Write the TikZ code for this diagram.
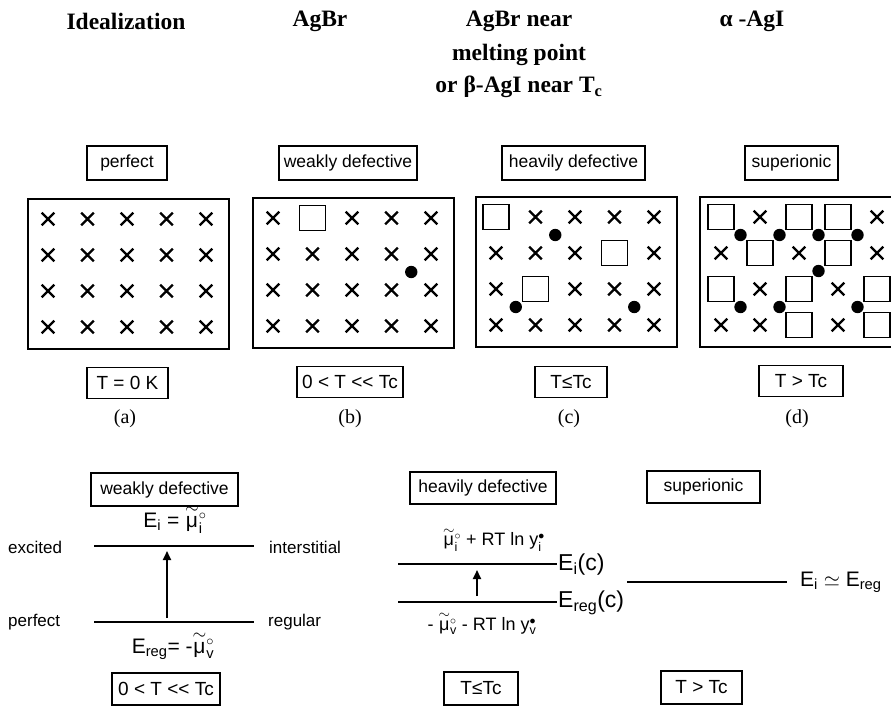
\documentclass[tikz,border=0pt]{standalone}
\usepackage{fontspec}
\usepackage{amsmath}
\setmainfont{Liberation Sans}
\newfontfamily\headfont{Liberation Serif}
\usetikzlibrary{arrows.meta}
\newcommand\tmu{\mathord{\smash{\overset{\raisebox{-0.3em}{\scalebox{0.85}{$\sim$}}}{\text{μ}}}}\vphantom{\text{μ}}}
\begin{document}
\begin{tikzpicture}[x=1pt,y=-1pt,
  head/.style={font=\headfont\bfseries\fontsize{23.5}{27}\selectfont, inner sep=0pt},
  tagbox/.style={draw, line width=1.6pt, inner sep=0pt, minimum height=34pt, font=\fontsize{17.5}{20}\selectfont},
  condbox/.style={draw, line width=1.6pt, inner sep=0pt, minimum height=31pt, font=\fontsize{19}{22}\selectfont},
  panel/.style={draw, line width=1.8pt, minimum width=201pt, minimum height=150pt, inner sep=0pt, anchor=north west},
  sublbl/.style={font=\headfont\fontsize{20}{22}\selectfont, inner sep=0pt},
  lvltxt/.style={font=\fontsize{17}{20}\selectfont, inner sep=0pt},
  eqtxt/.style={font=\fontsize{21}{24}\selectfont, inner sep=0pt},
  smalleq/.style={font=\fontsize{18}{20}\selectfont, inner sep=0pt},
  bigeq/.style={font=\fontsize{23}{26}\selectfont, inner sep=0pt, anchor=west},
  level/.style={line width=1.6pt},
  uparrow/.style={line width=2pt, -{Triangle[length=9pt,width=8pt]}},
  xm/.pic={\draw[line width=2.4pt] (-6.3,-6.3)--(6.3,6.3) (-6.3,6.3)--(6.3,-6.3);},
  vac/.pic={\draw[line width=1.8pt] (-13,-12.5) rectangle (13,12.5);},
  ion/.pic={\fill (0,0) circle (6.2);}
]
\useasboundingbox (0,0) rectangle (891,706);
\clip (0,0) rectangle (891,706);

% headers
\node[head] (h1) at (126,21) {Idealization};
\node[head] (h2) at (320,21) {AgBr};
\node[head] (h3a) at (519,21) {AgBr near};
\node[head] (h3b) at (519,55) {melting point};
\node[head] (h3c) at (519,87) {or β-AgI near T\textsubscript{c}};
\node[head] (h4) at (752,21) {α -AgI};

% state tags
\node[tagbox, minimum width=80pt] (ta) at (127,163) {perfect};
\node[tagbox, minimum width=138pt] (tb) at (348,163) {weakly defective};
\node[tagbox, minimum width=143pt] (tc) at (573.5,163) {heavily defective};
\node[tagbox, minimum width=93pt] (td) at (791.5,163) {superionic};

% panels
\node[panel] (pa) at (27,198) {};
\node[panel] (pb) at (252,197) {};
\node[panel] (pc) at (475,196) {};
\node[panel] (pd) at (699,196) {};

% (a) perfect lattice
\begin{scope}[shift={(27,198)}]
  \foreach \i in {1,...,4} \foreach \j in {1,...,5}
    \pic at ({21+39.5*(\j-1)},{21+36*(\i-1)}) {xm};
\end{scope}

% (b) weakly defective
\begin{scope}[shift={(252,197)}]
  \foreach \i/\j in {1/1,1/3,1/4,1/5,2/1,2/2,2/3,2/4,2/5,3/1,3/2,3/3,3/4,3/5,4/1,4/2,4/3,4/4,4/5}
    \pic at ({21+39.5*(\j-1)},{21+36*(\i-1)}) {xm};
  \foreach \i/\j in {1/2}
    \pic at ({21+39.5*(\j-1)},{21+36*(\i-1)}) {vac};
  \foreach \i/\j in {2.5/4.5}
    \pic at ({21+39.5*(\j-1)},{21+36*(\i-1)}) {ion};
\end{scope}

% (c) heavily defective
\begin{scope}[shift={(475,196)}]
  \foreach \i/\j in {1/2,1/3,1/4,1/5,2/1,2/2,2/3,2/5,3/1,3/3,3/4,3/5,4/1,4/2,4/3,4/4,4/5}
    \pic at ({21+39.5*(\j-1)},{21+36*(\i-1)}) {xm};
  \foreach \i/\j in {1/1,2/4,3/2}
    \pic at ({21+39.5*(\j-1)},{21+36*(\i-1)}) {vac};
  \foreach \i/\j in {1.5/2.5,3.5/1.5,3.5/4.5}
    \pic at ({21+39.5*(\j-1)},{21+36*(\i-1)}) {ion};
\end{scope}

% (d) superionic
\begin{scope}[shift={(699,196)}]
  \foreach \i/\j in {1/2,1/5,2/1,2/3,2/5,3/2,3/4,4/1,4/2,4/4}
    \pic at ({22+39*(\j-1)},{21+36*(\i-1)}) {xm};
  \foreach \i/\j in {1/1,1/3,1/4,2/2,2/4,3/1,3/3,3/5,4/3,4/5}
    \pic at ({22+39*(\j-1)},{21+36*(\i-1)}) {vac};
  \foreach \i/\j in {1.5/1.5,1.5/2.5,1.5/3.5,1.5/4.5,2.5/3.5,3.5/1.5,3.5/2.5,3.5/4.5}
    \pic at ({22+39*(\j-1)},{21+36*(\i-1)}) {ion};
\end{scope}

% temperature conditions
\node[condbox, minimum width=81pt] (ca) at (127.5,383) {T = 0 K};
\node[condbox, minimum width=106pt] (cb) at (350,382) {0 < T <{}< Tc};
\node[condbox, minimum width=72pt] (cc) at (571,382) {T≤Tc};
\node[condbox, minimum width=84pt] (cd) at (801,381) {T > Tc};

\node[sublbl] (la) at (125,419) {(a)};
\node[sublbl] (lb) at (350,419) {(b)};
\node[sublbl] (lc) at (569,419) {(c)};
\node[sublbl] (ld) at (797,419) {(d)};

% ---- bottom: energy levels, weakly defective
\node[tagbox, minimum width=147pt, minimum height=33pt] (bw) at (164.5,489.5) {weakly defective};
\node[eqtxt] (eqi) at (175,523) {E\textsubscript{i} = $\tmu^{\circ}_{\text{i}}$};
\node[lvltxt, anchor=west] (exc) at (8,547) {excited};
\node[lvltxt, anchor=west] (itl) at (269,547) {interstitial};
\node[lvltxt, anchor=west] (prf) at (8,622) {perfect};
\node[lvltxt, anchor=west] (reg) at (268,622) {regular};
\coordinate (w1l) at (94,546); \coordinate (w1r) at (254,546);
\coordinate (w2l) at (94,622); \coordinate (w2r) at (254,622);
\draw[level] (w1l) -- (w1r);
\draw[level] (w2l) -- (w2r);
\coordinate (wa0) at (167,618); \coordinate (wa1) at (167,551);
\draw[uparrow] (wa0) -- (wa1);
\node[eqtxt] (eqr) at (173,649) {E\textsubscript{reg}= -$\tmu^{\circ}_{\text{v}}$};
\node[condbox, minimum width=108pt, minimum height=32pt] (bcw) at (166,689) {0 < T <{}< Tc};

% ---- heavily defective
\node[tagbox, minimum width=146pt, minimum height=32pt] (bh) at (483,488) {heavily defective};
\node[smalleq] (eqhi) at (494,542) {$\tmu^{\circ}_{\text{i}}$ + RT ln y$^{\bullet}_{\text{i}}$};
\coordinate (h1l) at (398,564); \coordinate (h1r) at (557,564);
\coordinate (h2l) at (398,602); \coordinate (h2r) at (557,602);
\draw[level] (h1l) -- (h1r);
\draw[level] (h2l) -- (h2r);
\node[bigeq] (eic) at (558,565) {E\textsubscript{i}(c)};
\node[bigeq] (ergc) at (558,603) {E\textsubscript{reg}(c)};
\coordinate (ha0) at (477,596); \coordinate (ha1) at (477,570);
\draw[uparrow] (ha0) -- (ha1);
\node[smalleq] (eqhv) at (482,626) {- $\tmu^{\circ}_{\text{v}}$ - RT ln y$^{\bullet}_{\text{v}}$};
\node[condbox, minimum width=74pt, minimum height=33pt] (bch) at (481,688.5) {T≤Tc};

% ---- superionic
\node[tagbox, minimum width=113pt, minimum height=32pt] (bs) at (703.5,487) {superionic};
\coordinate (s1l) at (627,582); \coordinate (s1r) at (787,582);
\draw[level] (s1l) -- (s1r);
\node[bigeq, font=\fontsize{21}{24}\selectfont] (eeq) at (800,582) {E\textsubscript{i} $\simeq$ E\textsubscript{reg}};
\node[condbox, minimum width=81pt, minimum height=33pt] (bcs) at (701.5,687.5) {T > Tc};
\end{tikzpicture}
\end{document}
